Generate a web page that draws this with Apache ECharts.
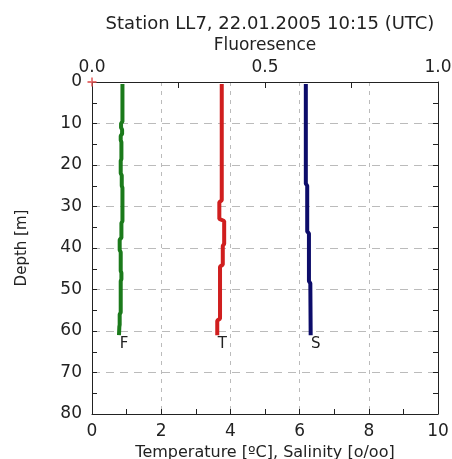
<!DOCTYPE html>
<html>
<head>
<meta charset="utf-8">
<script src="https://cdn.jsdelivr.net/npm/echarts@6/dist/echarts.min.js"></script>
<style>html,body{margin:0;padding:0;background:#fff}#c{width:452px;height:459px}</style>
</head>
<body>
<div id="c"></div>
<script>
// Data
const titleText = 'Station LL7, 22.01.2005 10:15 (UTC)';
const topAxisName = 'Fluoresence';
const bottomAxisName = 'Temperature [ºC], Salinity [o/oo]';
const depthAxisName = 'Depth [m]';

// Fluorescence (F) profile
const depthF = [0.5, 9.5, 10, 11, 11.5, 12.5, 13, 14, 14.5, 18.5, 19, 22, 22.5, 25, 25.5, 33.5, 34, 37.5, 38, 40.5, 41, 45.5, 46, 47.5, 48, 55.5, 56, 58.5, 59, 61];
const fluor  = [0.088, 0.088, 0.084, 0.084, 0.087, 0.087, 0.083, 0.083, 0.085, 0.085, 0.083, 0.083, 0.086, 0.086, 0.088, 0.088, 0.085, 0.085, 0.080, 0.080, 0.083, 0.083, 0.085, 0.085, 0.083, 0.083, 0.080, 0.080, 0.079, 0.078];

// Temperature (T) profile
const depthT = [0.5, 28.5, 29, 33, 33.5, 39, 39.5, 44, 44.5, 57, 57.5, 61];
const temp   = [3.75, 3.75, 3.68, 3.68, 3.82, 3.82, 3.78, 3.78, 3.70, 3.70, 3.62, 3.62];

// Salinity (S) profile
const depthS = [0.5, 24.5, 25, 36, 36.5, 48, 48.5, 61];
const sal    = [6.18, 6.18, 6.22, 6.22, 6.27, 6.27, 6.31, 6.32];

const seriesNames = ['F', 'T', 'S'];
const origin = [0, 0];

const FONT = 'DejaVu Sans';
const TXT = '#222';

function build(xs, ds, name) {
  return xs.map((x, i) => {
    const item = { value: [x, ds[i]] };
    if (i === xs.length - 1) {
      item.label = {
        show: true, formatter: name, position: 'bottom', distance: 1, offset: [5, 0],
        fontFamily: FONT, fontSize: 15, color: TXT
      };
    }
    return item;
  });
}

const chart = echarts.init(document.getElementById('c'), null, { renderer: 'canvas' });

const tickStyle = { lineStyle: { color: '#222', width: 1 } };

chart.setOption({
  animation: false,
  backgroundColor: '#fff',
  title: {
    text: titleText, left: 265, textAlign: 'center', top: 10,
    textStyle: { fontFamily: FONT, fontSize: 18, fontWeight: 'normal', color: TXT }
  },
  grid: { left: 92, right: 14, top: 82, bottom: 45, outerBoundsMode: 'none', containLabel: false },
  xAxis: [
    {
      type: 'value', position: 'bottom', min: 0, max: 10, interval: 2,
      name: bottomAxisName, nameLocation: 'middle', nameGap: 27,
      nameTextStyle: { fontFamily: FONT, fontSize: 16, color: TXT },
      axisLine: { show: true, onZero: false, lineStyle: { color: '#222', width: 1 } },
      axisTick: { show: true, inside: true, length: 5, ...tickStyle },
      minorTick: { show: true, splitNumber: 2, length: 5, ...tickStyle },
      axisLabel: { margin: 9, fontFamily: FONT, fontSize: 17, color: TXT },
      splitLine: { show: true, lineStyle: { color: '#bbb', type: [4, 5], width: 1 } }
    },
    {
      type: 'value', position: 'top', min: 0, max: 1, interval: 0.5,
      name: topAxisName, nameLocation: 'middle', nameGap: 25,
      nameTextStyle: { fontFamily: FONT, fontSize: 17, color: TXT },
      axisLine: { show: true, onZero: false, lineStyle: { color: '#222', width: 1 } },
      axisTick: { show: true, inside: true, length: 6, ...tickStyle },
      minorTick: { show: true, splitNumber: 2, length: 6, ...tickStyle },
      axisLabel: { margin: 6, fontFamily: FONT, fontSize: 17, color: TXT,
        formatter: v => v.toFixed(1) },
      splitLine: { show: false }
    }
  ],
  yAxis: [
    {
      type: 'value', position: 'left', inverse: true, min: 0, max: 80, interval: 10,
      name: depthAxisName, nameLocation: 'middle', nameGap: 62, nameRotate: 90,
      nameTextStyle: { fontFamily: FONT, fontSize: 15, color: TXT },
      axisLine: { show: true, onZero: false, lineStyle: { color: '#222', width: 1 } },
      axisTick: { show: true, inside: true, length: 5, ...tickStyle },
      minorTick: { show: true, splitNumber: 2, length: 5, ...tickStyle },
      axisLabel: { margin: 10, fontFamily: FONT, fontSize: 17, color: TXT },
      splitLine: { show: true, lineStyle: { color: '#bbb', type: [8, 6], width: 1 } }
    },
    {
      type: 'value', position: 'right', inverse: true, min: 0, max: 80, interval: 10,
      axisLine: { show: true, onZero: false, lineStyle: { color: '#222', width: 1 } },
      axisTick: { show: true, inside: true, length: 5, ...tickStyle },
      minorTick: { show: true, splitNumber: 2, length: 5, ...tickStyle },
      axisLabel: { show: false },
      splitLine: { show: false }
    }
  ],
  series: [
    {
      name: seriesNames[0], type: 'line', xAxisIndex: 1, yAxisIndex: 0,
      data: build(fluor, depthF, seriesNames[0]),
      symbol: 'circle', symbolSize: 0, showSymbol: true,
      lineStyle: { color: '#1b7a1b', width: 4 }, itemStyle: { color: '#1b7a1b' }
    },
    {
      name: seriesNames[1], type: 'line', xAxisIndex: 0, yAxisIndex: 0,
      data: build(temp, depthT, seriesNames[1]),
      symbol: 'circle', symbolSize: 0, showSymbol: true,
      lineStyle: { color: '#d01e1e', width: 4 }, itemStyle: { color: '#d01e1e' }
    },
    {
      name: seriesNames[2], type: 'line', xAxisIndex: 0, yAxisIndex: 0,
      data: build(sal, depthS, seriesNames[2]),
      symbol: 'circle', symbolSize: 0, showSymbol: true,
      lineStyle: { color: '#0c0c6a', width: 4 }, itemStyle: { color: '#0c0c6a' }
    },
    {
      name: 'origin', type: 'scatter', xAxisIndex: 0, yAxisIndex: 0,
      data: [origin], symbol: 'path://M4,0h2v10h-2z M0,4h10v2h-10z', symbolSize: 9,
      itemStyle: { color: '#e05050' }, z: 10
    }
  ]
});
</script>
</body>
</html>
